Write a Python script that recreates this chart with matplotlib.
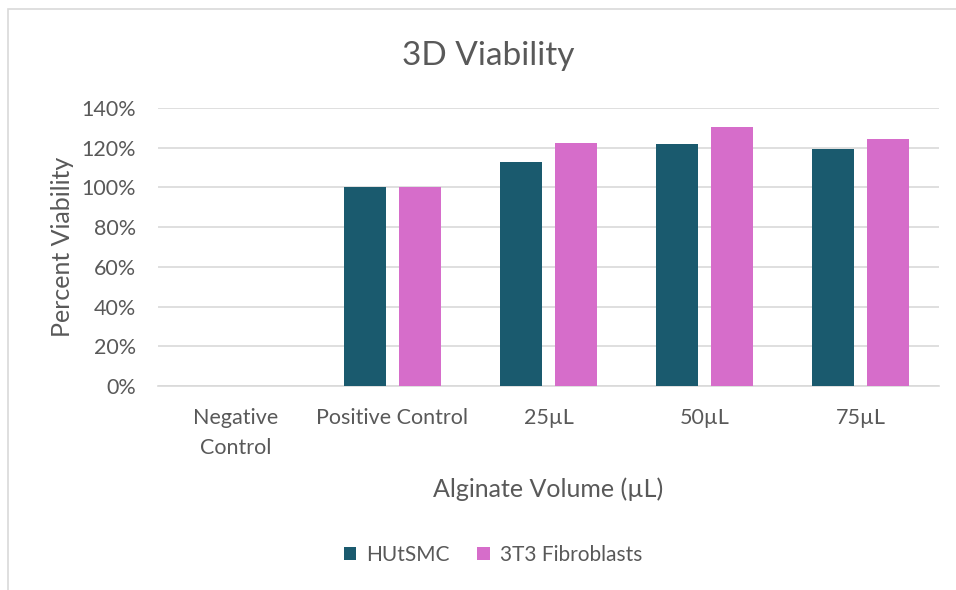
import matplotlib
matplotlib.use("Agg")
from matplotlib import pyplot as plt
from matplotlib.patches import Rectangle
from matplotlib.ticker import PercentFormatter
import numpy as np

plt.rcParams['font.family'] = ['Lato', 'DejaVu Sans']

categories = ["Negative\nControl", "Positive Control", "25µL", "50µL", "75µL"]
hutsmc = [0.0, 1.00, 1.126, 1.220, 1.194]
fibroblasts = [0.0, 1.00, 1.222, 1.303, 1.242]
series_names = ["HUtSMC", "3T3 Fibroblasts"]

txt = '#595959'
grid = '#d9d9d9'
teal = '#1a5a6e'
pink = '#d66dca'

fig = plt.figure(figsize=(9.56, 5.90), dpi=100)
# outer chart frame
fig.patches.append(Rectangle((8/956, -0.05), 1.2, 1 - 9/590 + 0.05, transform=fig.transFigure,
                             fill=False, edgecolor=grid, linewidth=1.2))

ax = fig.add_axes([158/956, 1 - 386/590, (939 - 158)/956, (386 - 108)/590])
x = np.arange(len(categories))
w = 0.27
off = 0.176
b1 = ax.bar(x - off, hutsmc, w, color=teal, zorder=3, label=series_names[0])
b2 = ax.bar(x + off, fibroblasts, w, color=pink, zorder=3, label=series_names[1])

ax.set_xlim(-0.5, len(categories) - 0.5)
ax.set_ylim(0, 1.4)
ax.set_yticks(np.arange(0, 1.41, 0.2))
ax.yaxis.set_major_formatter(PercentFormatter(1.0, decimals=0))
ax.set_xticks(x)
ax.set_xticklabels(categories, linespacing=1.6)
ax.grid(axis='y', color=grid, linewidth=1.2, zorder=0)
for s in ['top', 'right', 'left']:
    ax.spines[s].set_visible(False)
ax.spines['bottom'].set_color(grid)
ax.spines['bottom'].set_linewidth(1.2)
ax.tick_params(axis='both', length=0, labelsize=15.5, colors=txt)
ax.tick_params(axis='y', pad=16)
ax.tick_params(axis='x', pad=16)

ax.set_ylabel("Percent Viability", fontsize=18, color=txt, labelpad=5)
ax.set_xlabel("Alginate Volume (µL)", fontsize=18, color=txt, labelpad=14)

fig.text(488/956, 1 - 56/590, "3D Viability", ha='center', va='center', fontsize=24, color=txt)

leg = fig.legend(handles=[b1, b2], labels=series_names, loc='center', bbox_to_anchor=(493/956, 1 - 555/590),
                 ncol=2, frameon=False, fontsize=15, handlelength=0.6, handleheight=0.6,
                 columnspacing=1.3, handletextpad=0.5)
for t in leg.get_texts():
    t.set_color(txt)

fig.savefig("out.png", dpi=100, facecolor='white')
